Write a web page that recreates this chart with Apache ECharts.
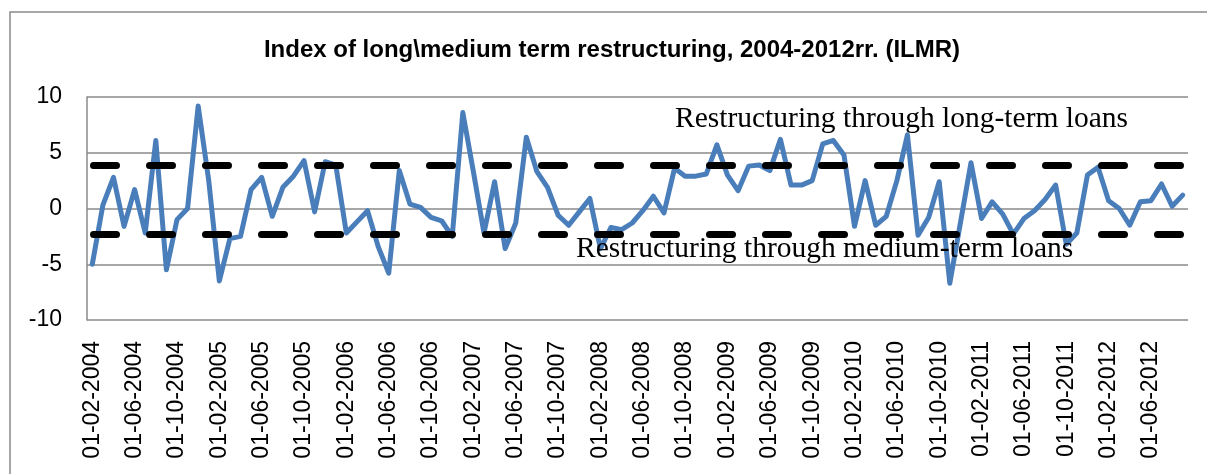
<!DOCTYPE html>
<html>
<head>
<meta charset="utf-8">
<script src="https://cdn.jsdelivr.net/npm/echarts@6/dist/echarts.min.js"></script>
<style>
  html, body { margin: 0; padding: 0; background: #fff; }
  #chart { width: 1207px; height: 474px; }
</style>
</head>
<body>
<div id="chart"></div>
<script>
// monthly dates, Feb 2004 - Sep 2012
var months = [
  "01-02-2004","01-03-2004","01-04-2004","01-05-2004","01-06-2004","01-07-2004","01-08-2004","01-09-2004","01-10-2004","01-11-2004","01-12-2004",
  "01-01-2005","01-02-2005","01-03-2005","01-04-2005","01-05-2005","01-06-2005","01-07-2005","01-08-2005","01-09-2005","01-10-2005","01-11-2005","01-12-2005",
  "01-01-2006","01-02-2006","01-03-2006","01-04-2006","01-05-2006","01-06-2006","01-07-2006","01-08-2006","01-09-2006","01-10-2006","01-11-2006","01-12-2006",
  "01-01-2007","01-02-2007","01-03-2007","01-04-2007","01-05-2007","01-06-2007","01-07-2007","01-08-2007","01-09-2007","01-10-2007","01-11-2007","01-12-2007",
  "01-01-2008","01-02-2008","01-03-2008","01-04-2008","01-05-2008","01-06-2008","01-07-2008","01-08-2008","01-09-2008","01-10-2008","01-11-2008","01-12-2008",
  "01-01-2009","01-02-2009","01-03-2009","01-04-2009","01-05-2009","01-06-2009","01-07-2009","01-08-2009","01-09-2009","01-10-2009","01-11-2009","01-12-2009",
  "01-01-2010","01-02-2010","01-03-2010","01-04-2010","01-05-2010","01-06-2010","01-07-2010","01-08-2010","01-09-2010","01-10-2010","01-11-2010","01-12-2010",
  "01-01-2011","01-02-2011","01-03-2011","01-04-2011","01-05-2011","01-06-2011","01-07-2011","01-08-2011","01-09-2011","01-10-2011","01-11-2011","01-12-2011",
  "01-01-2012","01-02-2012","01-03-2012","01-04-2012","01-05-2012","01-06-2012","01-07-2012","01-08-2012","01-09-2012"
];

// ILMR index values
var ilmr = [
  -5.0, 0.3, 2.8, -1.6, 1.7, -2.2, 6.1, -5.5, -1.0, 0.0, 9.2,
  2.5, -6.5, -2.7, -2.5, 1.7, 2.8, -0.7, 1.9, 2.9, 4.3, -0.3, 4.2,
  3.9, -2.2, -1.2, -0.2, -3.4, -5.8, 3.4, 0.4, 0.1, -0.8, -1.1, -2.5,
  8.6, 3.3, -2.2, 2.4, -3.6, -1.3, 6.4, 3.3, 1.9, -0.6, -1.5, -0.3,
  0.9, -3.6, -1.7, -1.9, -1.3, -0.2, 1.1, -0.4, 3.6, 2.9, 2.9, 3.1,
  5.7, 3.0, 1.6, 3.8, 3.9, 3.4, 6.2, 2.1, 2.1, 2.5, 5.8, 6.1,
  4.8, -1.6, 2.5, -1.5, -0.7, 2.5, 6.6, -2.4, -0.8, 2.4, -6.7, -1.3,
  4.1, -0.9, 0.6, -0.5, -2.3, -0.9, -0.2, 0.8, 2.1, -3.2, -2.2, 3.0,
  3.7, 0.7, 0.0, -1.5, 0.6, 0.7, 2.2, 0.2, 1.2
];

// threshold levels (dashed lines)
var longTermLevel = 3.9;
var mediumTermLevel = -2.3;

var yTicks = { min: -10, max: 10, step: 5 };

var myChart = echarts.init(document.getElementById("chart"));

var option = {
  animation: false,
  backgroundColor: "#fff",
  grid: {
    left: 87,
    right: 19,
    top: 97,
    bottom: 154,
    containLabel: false
  },
  graphic: [
    {
      type: "rect",
      shape: { x: 10, y: 12, width: 1220, height: 480 },
      style: { fill: "none", stroke: "#8a8a8a", lineWidth: 1.5 },
      silent: true,
      z: -10
    },
    {
      type: "text",
      style: {
        x: 612,
        y: 50,
        text: "Index of long\\medium term restructuring, 2004-2012rr. (ILMR)",
        font: "bold 24px 'Liberation Sans', Arial, sans-serif",
        fill: "#000",
        textAlign: "center",
        textVerticalAlign: "middle"
      }
    },
    {
      type: "text",
      z: 100,
      style: {
        x: 675,
        y: 119,
        text: "Restructuring through long-term loans",
        font: "29.5px 'Liberation Serif', 'Times New Roman', serif",
        fill: "#000",
        textAlign: "left",
        textVerticalAlign: "middle"
      }
    },
    {
      type: "text",
      z: 100,
      style: {
        x: 576,
        y: 249,
        text: "Restructuring through medium-term loans",
        font: "29.5px 'Liberation Serif', 'Times New Roman', serif",
        fill: "#000",
        textAlign: "left",
        textVerticalAlign: "middle"
      }
    }
  ],
  xAxis: {
    type: "category",
    data: months,
    boundaryGap: true,
    axisLine: { show: false },
    axisTick: { show: false },
    splitLine: { show: false },
    axisLabel: {
      interval: 3,
      rotate: 90,
      margin: 21,
      color: "#000",
      fontSize: 23,
      fontFamily: "'Liberation Sans', Arial, sans-serif"
    }
  },
  yAxis: {
    type: "value",
    min: yTicks.min,
    max: yTicks.max,
    interval: yTicks.step,
    axisLine: { show: true, lineStyle: { color: "#8a8a8a", width: 1.5 } },
    axisTick: { show: false },
    splitLine: { show: true, lineStyle: { color: "#8a8a8a", width: 1.5 } },
    axisLabel: {
      margin: 25,
      color: "#000",
      fontSize: 23,
      fontFamily: "'Liberation Sans', Arial, sans-serif"
    }
  },
  series: [
    {
      name: "ILMR",
      type: "line",
      data: ilmr,
      showSymbol: false,
      symbol: "none",
      smooth: false,
      lineStyle: { color: "#4a7ebb", width: 5, join: "round", cap: "round" },
      itemStyle: { color: "#4a7ebb" },
      z: 3,
      markLine: {
        silent: true,
        symbol: "none",
        label: { show: false },
        lineStyle: {
          color: "#000",
          width: 7,
          type: [23, 33],
          cap: "round",
          dashOffset: 49.5
        },
        data: [
          { yAxis: longTermLevel },
          { yAxis: mediumTermLevel }
        ]
      }
    }
  ]
};

myChart.setOption(option, true);
</script>
</body>
</html>
